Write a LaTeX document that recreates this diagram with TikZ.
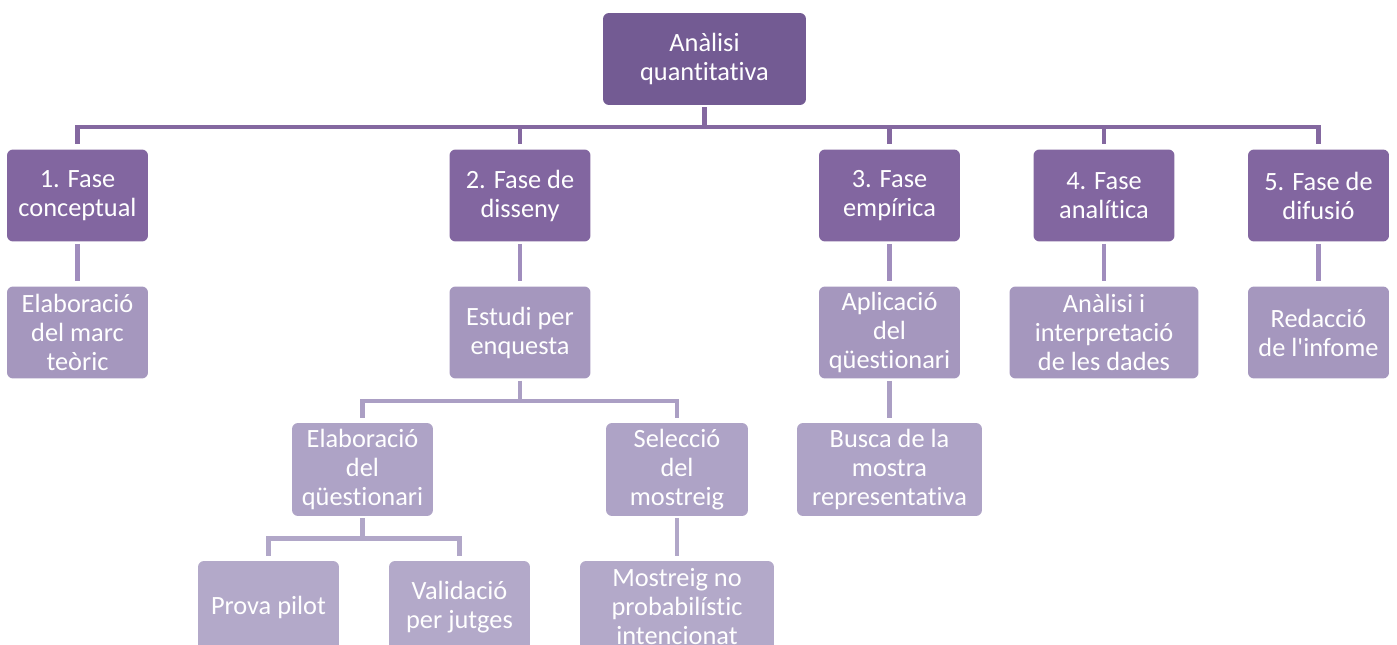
\documentclass[tikz,border=0pt]{standalone}
\usepackage{fontspec}
\setmainfont{Carlito}[Ligatures={TeXOff,NoCommon}]
\definecolor{arrel}{HTML}{735B93}
\definecolor{fase}{HTML}{8266A0}
\definecolor{nivelldos}{HTML}{A597BE}
\definecolor{nivelltres}{HTML}{AEA3C6}
\definecolor{nivellquatre}{HTML}{B3A9C9}
\definecolor{liniau}{HTML}{8468A0}
\definecolor{liniados}{HTML}{A08DBD}
\definecolor{liniatres}{HTML}{AB9FC4}
\definecolor{liniaquatre}{HTML}{B1A7C8}
\tikzset{
  caixa/.style={rounded corners=3.4pt, text=white, align=center, inner sep=0pt,
    minimum width=2.82cm, minimum height=1.84cm, font=\fontsize{15}{16.5}\selectfont},
  linia/.style={line width=2.8pt, shorten <=1.2pt, shorten >=2.8pt}
}
\begin{document}
\begin{tikzpicture}[x=0.02cm,y=-0.02cm]
        \useasboundingbox (0,0) rectangle (1397,645);
        \clip (0,0) rectangle (1397,645);
        % arrel
        \node[caixa, fill=arrel, minimum width=4.06cm] (root) at (704.5,59) {Anàlisi\\quantitativa};
        % fases
        \node[caixa, fill=fase] (f1) at (77.5,195.5) {1. Fase\\conceptual};
        \node[caixa, fill=fase] (f2) at (520,195.5) {2. Fase de\\disseny};
        \node[caixa, fill=fase] (f3) at (889.5,195.5) {3. Fase\\empírica};
        \node[caixa, fill=fase] (f4) at (1104,195.5) {4. Fase\\analítica};
        \node[caixa, fill=fase] (f5) at (1318.5,195.5) {5. Fase de\\difusió};
        % segon nivell
        \node[caixa, fill=nivelldos] (e1) at (77.5,332.5) {Elaboració\\del marc\\teòric};
        \node[caixa, fill=nivelldos] (e2) at (520,332.5) {Estudi per\\enquesta};
        \node[caixa, fill=nivelldos] (e3) at (889.5,332.5) {Aplicació\\del\\qüestionari};
        \node[caixa, fill=nivelldos, minimum width=3.78cm] (e4) at (1104,332.5) {Anàlisi i\\interpretació\\de les dades};
        \node[caixa, fill=nivelldos] (e5) at (1318.5,332.5) {Redacció\\de l'infome};
        % tercer nivell
        \node[caixa, fill=nivelltres, minimum height=1.86cm] (q) at (362.5,469.5) {Elaboració\\del\\qüestionari};
        \node[caixa, fill=nivelltres, minimum height=1.86cm, minimum width=2.84cm] (s) at (677,469.5) {Selecció\\del\\mostreig};
        \node[caixa, fill=nivelltres, minimum height=1.86cm, minimum width=3.7cm] (b) at (889.5,469.5) {Busca de la\\mostra\\representativa};
        % quart nivell
        \node[caixa, fill=nivellquatre] (p) at (268.5,607) {Prova pilot};
        \node[caixa, fill=nivellquatre] (v) at (459.5,607) {Validació\\per jutges};
        \node[caixa, fill=nivellquatre, minimum width=3.88cm] (m) at (677,607) {Mostreig no\\probabilístic\\intencionat};

        \foreach \f in {f1,f2,f3,f4,f5}{
          \draw[linia, liniau] (root.south) -- (704.5,127) -| (\f.north);
        }
        \foreach \a/\b in {f1/e1,f2/e2,f3/e3,f4/e4,f5/e5}{
          \draw[linia, liniados] (\a.south) -- (\b.north);
        }
        \draw[linia, liniatres] (e2.south) -- (520,401) -| (q.north);
        \draw[linia, liniatres] (e2.south) -- (520,401) -| (s.north);
        \draw[linia, liniatres] (e3.south) -- (b.north);
        \draw[linia, liniaquatre] (q.south) -- (362.5,538.5) -| (p.north);
        \draw[linia, liniaquatre] (q.south) -- (362.5,538.5) -| (v.north);
        \draw[linia, liniaquatre] (s.south) -- (m.north);

      \end{tikzpicture}
\end{document}
